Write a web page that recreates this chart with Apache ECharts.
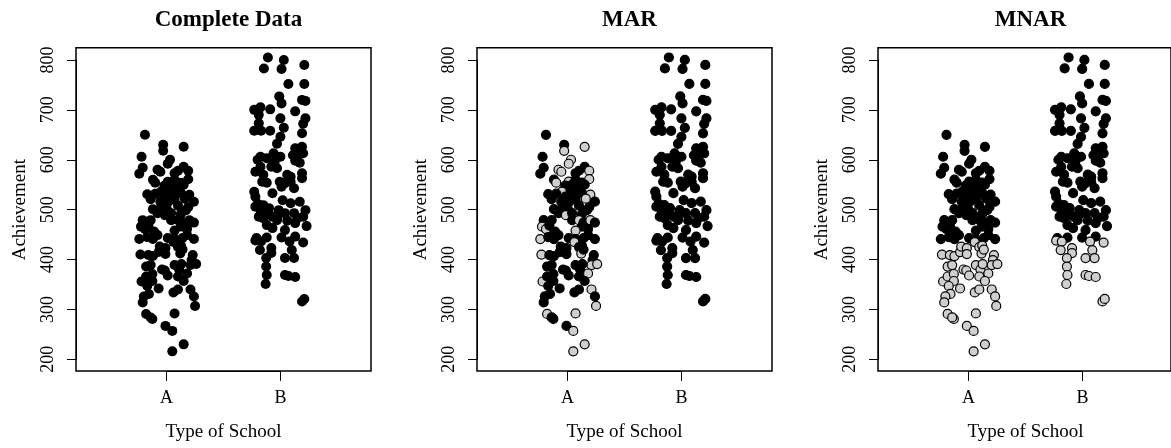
<!DOCTYPE html>
<html>
<head>
<meta charset="utf-8">
<script src="https://cdn.jsdelivr.net/npm/echarts/dist/echarts.min.js"></script>
<style>
  html, body { margin: 0; padding: 0; background: #fff; }
  #chart { width: 1171px; height: 448px; }
</style>
</head>
<body>
<div id="chart"></div>
<script>
// School types on the x axis and the achievement tick values
const schools = ['A', 'B'];
const yTicks = [200, 300, 400, 500, 600, 700, 800];
const panelTitles = ['Complete Data', 'MAR', 'MNAR'];

// School A: horizontal jitter around the category and achievement score
const jitterA = [
  -0.19, -0.03, -0.03, 0.15, -0.22, 0.03, 0.01, -0.21, -0.24, 0.15, 0.19,
  -0.08, -0.055, 0.07, 0.10, -0.12, -0.10, 0.01, 0.07, 0.125, 0.19,
  -0.02, 0.04, 0.10, 0.15, -0.17, -0.14, -0.05, -0.02, 0.04, 0.08, 0.125, 0.20,
  -0.055, 0.01, 0.07, 0.24, -0.12, -0.05, 0.01, 0.17, 0.19,
  -0.08, -0.015, 0.04, 0.125, -0.21, -0.18, -0.14, 0.04, 0.10, 0.14, 0.20, 0.24,
  -0.225, -0.19, 0.125, 0.18, -0.11, 0.07, -0.08, 0.18,
  0.24, -0.12, 0.01, 0.07, 0.14, -0.24, -0.17,
  -0.23, -0.16, -0.12, -0.07, -0.06, -0.01, -0.01, 0.06, 0.10, 0.126, 0.12, 0.14,
  0.23, 0.22, 0.21, 0.26, -0.18, -0.14, -0.04, -0.015, 0.01, 0.07, 0.11, 0.13,
  0.10, 0.18, 0.15, -0.22, -0.18, -0.125, -0.125, -0.17, -0.07, -0.155, -0.20, -0.21,
  0.06, 0.10, 0.21, 0.24, 0.25, -0.18, -0.125, -0.14, 0.07, -0.01, 0.05, 0.15, 0.05,
  -0.10, 0.03, 0.16, 0.10, -0.16
];
const achievementA = [
  650, 630, 618, 626, 606, 600, 592, 584, 572, 586, 578,
  580, 576, 573, 578, 560, 554, 556, 560, 554, 561,
  548, 550, 545, 550, 531, 521, 536, 526, 526, 530, 534, 530,
  516, 514, 520, 516, 501, 503, 498, 499, 505,
  493, 489, 493, 491, 479, 474, 479, 479, 479, 474, 479, 474,
  466, 461, 466, 461, 456, 458, 449, 449,
  441, 441, 443, 441, 443, 441, 445,
  410, 409, 407, 415, 426, 423, 411, 435, 425, 428, 412, 420,
  409, 399, 389, 391, 386, 389, 380, 378, 368, 389, 380, 391,
  366, 372, 357, 356, 366, 371, 357, 347, 342, 331, 326, 314,
  334, 340, 340, 326, 307, 291, 281, 284, 292, 267, 257, 230, 216,
  532, 540, 522, 508, 468
];
// School A cases that are missing under the MAR mechanism (zero-based)
const marMissingA = [2, 3, 5, 6, 10, 11, 12, 16, 17, 20, 27, 32, 43, 50, 52, 54, 55, 59, 67,
  69, 76, 79, 83, 84, 94, 96, 107, 109, 110, 113, 115, 116, 117, 120];

// School B: horizontal jitter and achievement score
const jitterB = [
  -0.11, 0.03, -0.145, 0.01, 0.21, 0.07, 0.21, -0.01, 0.01, 0.19, 0.22, 0.13,
  -0.23, -0.175, -0.19, -0.09, 0, 0.22, 0.20, -0.19, -0.23, -0.17, -0.09, 0.03, 0.19,
  0, -0.03, 0.13, 0.19, 0.20, -0.20, -0.175, -0.12, -0.06, 0, 0.11, 0.15, 0.17,
  -0.22, -0.175, -0.15, -0.08, -0.03, 0.06, 0.19, 0.19, -0.16, -0.12, -0.006, 0.04, 0.09, 0.12,
  -0.23, -0.22, -0.07, 0.01, 0.02, 0.17, 0.09, -0.22, -0.15, -0.10, -0.015, 0.04, 0.22,
  -0.19, -0.15, -0.07, -0.03, 0.12, 0.15, 0.20, 0.23, -0.12, -0.07, 0.13,
  -0.21, -0.12, 0.04, 0.01, 0.13,
  -0.22, -0.17, -0.18, -0.08, -0.08, -0.125, -0.125, -0.12, -0.13,
  0.08, 0.10, 0.04, 0.12, 0.04, 0.07, 0.13, 0.20, 0.19, 0.21,
  -0.20, -0.17, -0.10, -0.02, 0.06, 0.09, -0.05, 0.13
];
const achievementB = [
  805, 800, 783, 782, 790, 752, 752, 727, 713, 720, 718, 697,
  700, 705, 690, 701, 683, 683, 672, 673, 658, 658, 658, 664, 653,
  646, 632, 623, 626, 613, 600, 606, 603, 613, 606, 609, 606, 594,
  576, 586, 570, 586, 583, 570, 573, 563, 556, 554, 556, 553, 566, 543,
  536, 526, 533, 546, 519, 516, 513, 506, 509, 503, 499, 493, 499,
  486, 483, 486, 479, 493, 483, 486, 467, 469, 463, 473,
  443, 444, 459, 444, 446,
  438, 436, 419, 423, 413, 403, 386, 369, 351,
  436, 419, 403, 403, 369, 367, 365, 434, 316, 321,
  512, 495, 491, 489, 478, 556, 596, 598
];
// Under MNAR, scores below this value are missing
const MNAR_CUTOFF = 440;

// ---- layout ----
const PANEL_STEP = 401;
const BOX = { left: 76, top: 47.7, width: 295, height: 323.3 };
const X_MIN = 0.204, X_MAX = 2.796;
const Y_MIN = 176.6, Y_MAX = 824.6;
const FONT = '"Liberation Serif", "Times New Roman", serif';
const GREY = '#cfcfcf';

const yAxisTop = BOX.top + (Y_MAX - yTicks[yTicks.length - 1]) / (Y_MAX - Y_MIN) * BOX.height;
const yAxisHeight = (yTicks[yTicks.length - 1] - yTicks[0]) / (Y_MAX - Y_MIN) * BOX.height;
const xAxisOffset = (1 - X_MIN) / (X_MAX - X_MIN) * BOX.width;
const xAxisWidth = (schools.length - 1) / (X_MAX - X_MIN) * BOX.width;

const marSet = new Set(marMissingA);

function fillFor(panel, group, k, value) {
  if (panel === 1 && group === 0 && marSet.has(k)) return GREY;
  if (panel === 2 && value < MNAR_CUTOFF) return GREY;
  return '#000';
}

const grids = [], xAxes = [], yAxes = [], series = [], titles = [];

panelTitles.forEach((name, p) => {
  const left = BOX.left + p * PANEL_STEP;
  const g = grids.length;

  // plotting box
  grids.push({ left, top: BOX.top, width: BOX.width, height: BOX.height,
    show: true, borderColor: '#000', borderWidth: 1.5, backgroundColor: 'transparent' });
  // vertical axis spanning the tick range
  grids.push({ left, top: yAxisTop, width: 10, height: yAxisHeight });
  // horizontal axis spanning the two categories
  grids.push({ left: left + xAxisOffset, top: BOX.top, width: xAxisWidth, height: BOX.height });

  xAxes.push({ gridIndex: g, type: 'value', min: X_MIN, max: X_MAX, show: false });
  yAxes.push({ gridIndex: g, type: 'value', min: Y_MIN, max: Y_MAX, show: false });

  xAxes.push({ gridIndex: g + 1, type: 'value', min: 0, max: 1, show: false });
  yAxes.push({
    gridIndex: g + 1, type: 'value', position: 'left',
    min: yTicks[0], max: yTicks[yTicks.length - 1], interval: yTicks[1] - yTicks[0],
    axisLine: { show: true, lineStyle: { color: '#000', width: 1 } },
    axisTick: { show: true, inside: false, length: 9, lineStyle: { color: '#000', width: 1 } },
    axisLabel: { rotate: 90, margin: 19, color: '#000', fontSize: 18, fontFamily: FONT },
    splitLine: { show: false },
    name: 'Achievement', nameLocation: 'middle', nameRotate: 90, nameGap: 46,
    nameTextStyle: { color: '#000', fontSize: 19, fontFamily: FONT }
  });

  xAxes.push({
    gridIndex: g + 2, type: 'value', position: 'bottom',
    min: 1, max: schools.length, interval: 1,
    axisLine: { show: true, lineStyle: { color: '#000', width: 1 } },
    axisTick: { show: true, inside: false, length: 10, lineStyle: { color: '#000', width: 1 } },
    axisLabel: { margin: 18, color: '#000', fontSize: 18, fontFamily: FONT,
      formatter: v => schools[Math.round(v) - 1] || '' },
    splitLine: { show: false },
    name: 'Type of School', nameLocation: 'middle', nameGap: 52,
    nameTextStyle: { color: '#000', fontSize: 19, fontFamily: FONT }
  });
  yAxes.push({ gridIndex: g + 2, type: 'value', min: 0, max: 1, show: false });

  const data = [];
  [[jitterA, achievementA], [jitterB, achievementB]].forEach(([jit, vals], grp) => {
    vals.forEach((v, k) => {
      const color = fillFor(p, grp, k, v);
      data.push({
        value: [grp + 1 + jit[k], v],
        itemStyle: p === 0
          ? { color: '#000', borderWidth: 0, opacity: 1 }
          : { color, borderColor: '#000', borderWidth: 1.2, opacity: 1 }
      });
    });
  });
  series.push({
    type: 'scatter', xAxisIndex: g, yAxisIndex: g,
    symbol: 'circle', symbolSize: p === 0 ? 10 : 9,
    itemStyle: { opacity: 1 },
    data, silent: true, clip: false
  });

  titles.push({
    text: name, left: left + BOX.width / 2, top: 4, textAlign: 'center',
    textStyle: { color: '#000', fontSize: 23, fontWeight: 'bold', fontFamily: FONT }
  });
});

const chart = echarts.init(document.getElementById('chart'), null, { renderer: 'canvas' });
chart.setOption({
  animation: false,
  backgroundColor: '#fff',
  title: titles,
  grid: grids,
  xAxis: xAxes,
  yAxis: yAxes,
  series
});
</script>
</body>
</html>
